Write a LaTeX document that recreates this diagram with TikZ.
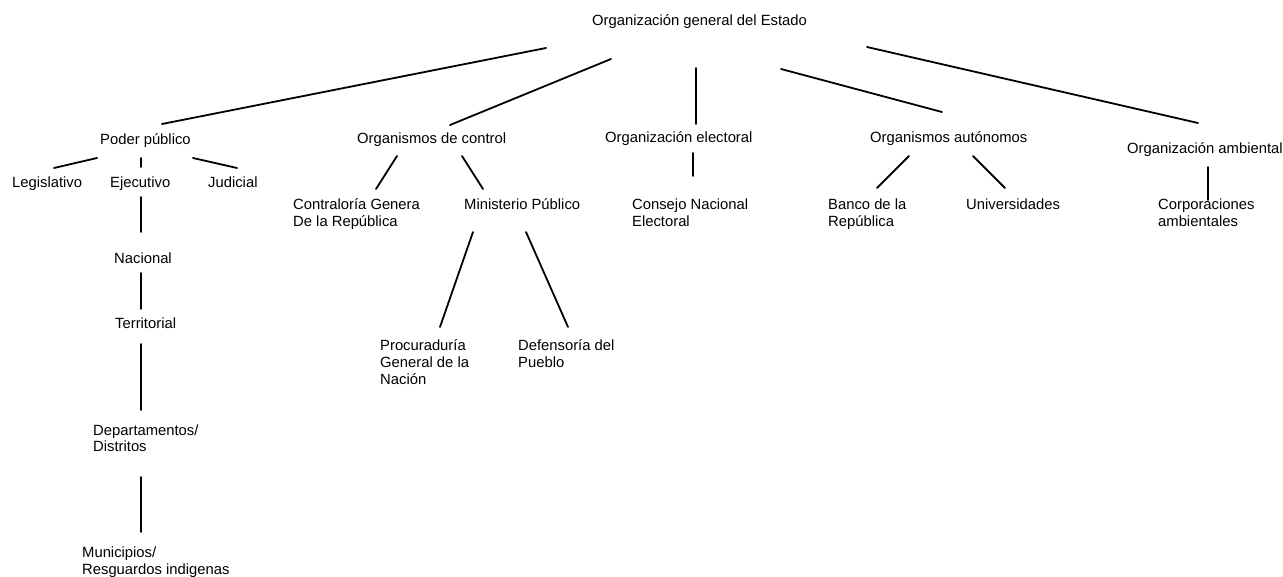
\documentclass[tikz,border=0pt]{standalone}
\usepackage{fontspec}
\setmainfont{Liberation Sans}
\newcommand{\mlines}[1]{\begin{tabular}[t]{@{}l@{}}#1\end{tabular}}
\tikzset{
  lbl/.style={anchor=base west, inner sep=0pt, font=\fontsize{14.8}{17}\selectfont},
  conn/.style={line width=1.8pt, line cap=round}
}
\begin{document}
\begin{tikzpicture}[x=1pt,y=-1pt]
\useasboundingbox[fill=white] (0,0) rectangle (1283,577);
% nodes
\node[lbl] (root) at (592,26) {Organización general del Estado};
\node[lbl] (poder) at (100,145) {Poder público};
\node[lbl] (control) at (357,144) {Organismos de control};
\node[lbl] (electoral) at (605,143) {Organización electoral};
\node[lbl] (autonomos) at (870,143) {Organismos autónomos};
\node[lbl] (ambiental) at (1127,154) {Organización ambiental};
\node[lbl] (legis) at (12,188) {Legislativo};
\node[lbl] (ejec) at (110,188) {Ejecutivo};
\node[lbl] (judic) at (208,188) {Judicial};
\node[lbl] (nacional) at (114,264) {Nacional};
\node[lbl] (territorial) at (115,329) {Territorial};
\node[lbl] (deptos) at (93,435) {\mlines{Departamentos/\\Distritos}};
\node[lbl] (munic) at (82,557) {\mlines{Municipios/\\Resguardos indigenas}};
\node[lbl] (contral) at (293,210) {\mlines{Contraloría Genera\\De la República}};
\node[lbl] (minist) at (464,210) {Ministerio Público};
\node[lbl] (procur) at (380,351) {\mlines{Procuraduría\\General de la\\Nación}};
\node[lbl] (defens) at (518,351) {\mlines{Defensoría del\\Pueblo}};
\node[lbl] (consejo) at (632,210) {\mlines{Consejo Nacional\\Electoral}};
\node[lbl] (banco) at (828,210) {\mlines{Banco de la\\República}};
\node[lbl] (univ) at (966,210) {Universidades};
\node[lbl] (corpor) at (1158,210) {\mlines{Corporaciones\\ambientales}};
% connector ends
\coordinate (r1) at (546,48);   \coordinate (p1) at (162,124);
\coordinate (r2) at (611,59);   \coordinate (c1) at (450,125);
\coordinate (r3) at (696,68);   \coordinate (e1) at (696,124);
\coordinate (r4) at (781,69);   \coordinate (a1) at (942,112);
\coordinate (r5) at (867,47);   \coordinate (m1) at (1198,123);
\coordinate (pl1) at (97,158);  \coordinate (pl2) at (54,168);
\coordinate (pe1) at (141,158); \coordinate (pe2) at (141,167);
\coordinate (pj1) at (193,158); \coordinate (pj2) at (237,168);
\coordinate (en1) at (141,197); \coordinate (en2) at (141,232);
\coordinate (nt1) at (141,273); \coordinate (nt2) at (141,309);
\coordinate (td1) at (141,344); \coordinate (td2) at (141,410);
\coordinate (dm1) at (141,477); \coordinate (dm2) at (141,532);
\coordinate (cc1) at (397,156); \coordinate (cc2) at (376,189);
\coordinate (cm1) at (462,156); \coordinate (cm2) at (483,189);
\coordinate (mp1) at (473,232); \coordinate (mp2) at (440,327);
\coordinate (md1) at (526,232); \coordinate (md2) at (568,327);
\coordinate (ec1) at (693,153); \coordinate (ec2) at (693,176);
\coordinate (ab1) at (909,156); \coordinate (ab2) at (877,188);
\coordinate (au1) at (973,156); \coordinate (au2) at (1005,188);
\coordinate (ac1) at (1208,167); \coordinate (ac2) at (1208,200);
% connectors
\draw[conn] (r1) -- (p1);
\draw[conn] (r2) -- (c1);
\draw[conn] (r3) -- (e1);
\draw[conn] (r4) -- (a1);
\draw[conn] (r5) -- (m1);
\draw[conn] (pl1) -- (pl2);
\draw[conn] (pe1) -- (pe2);
\draw[conn] (pj1) -- (pj2);
\draw[conn] (en1) -- (en2);
\draw[conn] (nt1) -- (nt2);
\draw[conn] (td1) -- (td2);
\draw[conn] (dm1) -- (dm2);
\draw[conn] (cc1) -- (cc2);
\draw[conn] (cm1) -- (cm2);
\draw[conn] (mp1) -- (mp2);
\draw[conn] (md1) -- (md2);
\draw[conn] (ec1) -- (ec2);
\draw[conn] (ab1) -- (ab2);
\draw[conn] (au1) -- (au2);
\draw[conn] (ac1) -- (ac2);
\end{tikzpicture}
\end{document}
